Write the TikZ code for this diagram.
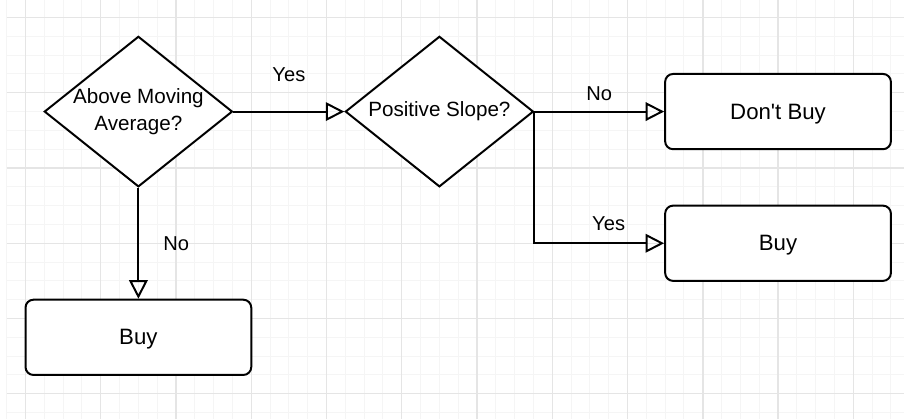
\documentclass[tikz,border=0pt]{standalone}
\usepackage{fontspec}
\setmainfont{Liberation Sans}[Ligatures=TeXOff]
\usetikzlibrary{shapes.geometric,arrows.meta,positioning}

\begin{document}
\begin{tikzpicture}[scale=1,
        every node/.style={font=\fontsize{7.6}{10}\selectfont},
        decision/.style={draw, line width=0.75pt, diamond, aspect=1.25, minimum width=2.5cm, minimum height=2cm, inner sep=0pt, align=center, fill=white, font=\fontsize{7.8}{10}\selectfont},
        outcome/.style={draw, line width=0.75pt, rounded corners=3pt, minimum width=3cm, minimum height=1cm, fill=white, text depth=0pt, font=\fontsize{8.4}{10}\selectfont},
        flow/.style={line width=0.75pt, -{Triangle[open, length=7pt, width=7pt]}},
        answer/.style={inner sep=0pt}]
        \useasboundingbox (-0.339,-0.3355) rectangle (11.674,5.2326);
        \draw[gray!8, line width=0.4pt, step=0.25] (-0.251,-0.3355) grid (11.674,5.2326);
        \draw[gray!20, line width=0.55pt, step=1] (-0.251,-0.3355) grid (11.674,5.2326);

        \node[decision] (avg) at (1.5,3.75) {Above Moving\\Average?};
        \node[decision] (slope) at (5.5,3.75) {Positive Slope?};
        \node[outcome] (dontbuy) at (10,3.75) {Don't Buy};
        \node[outcome] (buyright) at (10,2) {Buy};
        \node[outcome] (buyleft) at (1.5,0.75) {Buy};

        \draw[flow] (avg.east) -- node[answer, midway, above=0.38cm]{Yes} (slope.west);
        \draw[flow] (slope.east) -- node[answer, midway, above=0.13cm]{No} (dontbuy.west);
        \draw[flow] (slope.east) |- node[answer, pos=0.786, above=0.15cm]{Yes} (buyright.west);
        \draw[flow] (avg.south) -- node[answer, midway, right=0.32cm]{No} (buyleft.north);
        \end{tikzpicture}
\end{document}
